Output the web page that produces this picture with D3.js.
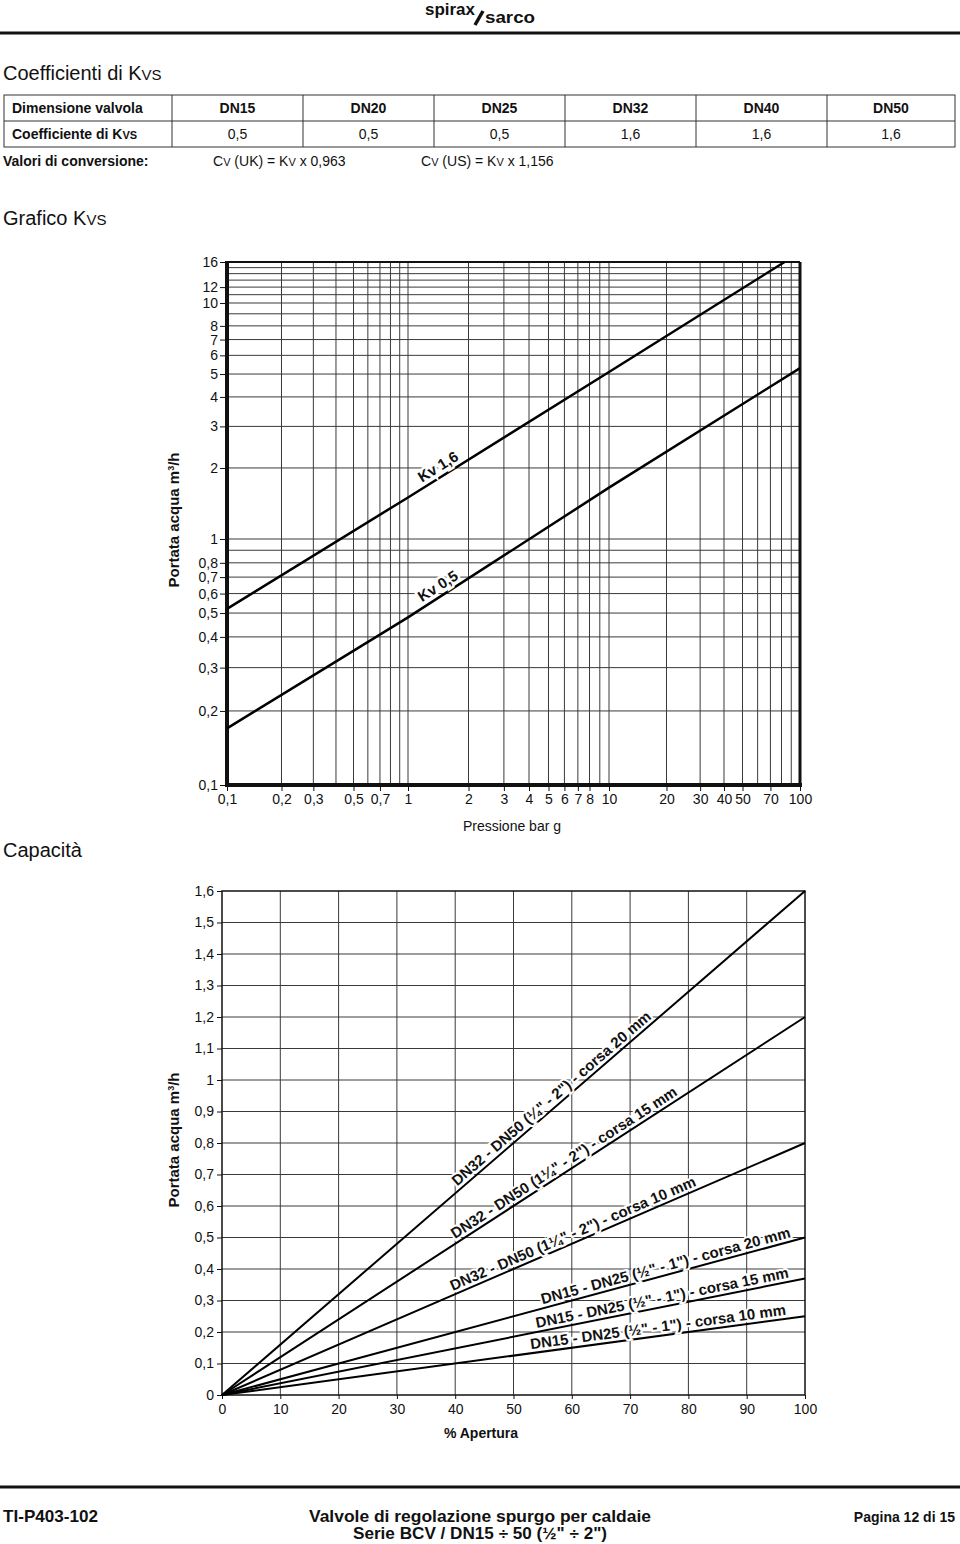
<!DOCTYPE html>
<html lang="it">
<head>
<meta charset="UTF-8">
<title>Coefficienti di Kvs / Grafico Kvs / Capacità</title>
<script src="https://d3js.org/d3.v7.min.js"></script>
<style>
  body { margin: 0; background: #fff; }
  svg { display: block; font-family: "Liberation Sans", Arial, sans-serif; fill: #111; }
  .grid line { stroke: #3a3a3a; stroke-width: 1; }
  .axis text { font-size: 14px; fill: #111; font-family: "Liberation Sans", Arial, sans-serif; }
  .axis line { stroke: #111; }
  .narrow { font-family: "Liberation Sans Narrow", "Arial Narrow", "Liberation Sans", sans-serif; font-weight: bold; }
</style>
</head>
<body>
<div id="page"></div>
<script>
// ---- table ----
const sizes = ["DN15", "DN20", "DN25", "DN32", "DN40", "DN50"];
const kvsValues = ["0,5", "0,5", "0,5", "1,6", "1,6", "1,6"];

// ---- Grafico Kvs (log-log) ----
const pressTicks = [0.1, 0.2, 0.3, 0.5, 0.7, 1, 2, 3, 4, 5, 6, 7, 8, 10, 20, 30, 40, 50, 70, 100];
const flowTicks = [0.1, 0.2, 0.3, 0.4, 0.5, 0.6, 0.7, 0.8, 1, 2, 3, 4, 5, 6, 7, 8, 10, 12, 16];
const kvNames = ["Kv 1,6", "Kv 0,5"];
const kv16Press = [0.1, 1, 10, 83];
const kv16Flow = [0.52, 1.5, 5.1, 16];
const kv05Press = [0.1, 1, 10, 100];
const kv05Flow = [0.17, 0.48, 1.65, 5.3];

// ---- Capacità (linear) ----
const aperturaTicks = [0, 10, 20, 30, 40, 50, 60, 70, 80, 90, 100];
const portataTicks = [0, 0.1, 0.2, 0.3, 0.4, 0.5, 0.6, 0.7, 0.8, 0.9, 1, 1.1, 1.2, 1.3, 1.4, 1.5, 1.6];
const apertura = [0, 100];
const dn32c20 = [0, 1.6];
const dn32c15 = [0, 1.2];
const dn32c10 = [0, 0.8];
const dn15c20 = [0, 0.5];
const dn15c15 = [0, 0.37];
const dn15c10 = [0, 0.25];
const capNames = [
  "DN32 - DN50 (¼\" - 2\") - corsa 20 mm",
  "DN32 - DN50 (1¼\" - 2\") - corsa 15 mm",
  "DN32 - DN50 (1¼\" - 2\") - corsa 10 mm",
  "DN15 - DN25 (½\" - 1\") - corsa 20 mm",
  "DN15 - DN25 (½\" - 1\") - corsa 15 mm",
  "DN15 - DN25 (½\" - 1\") - corsa 10 mm"
];

const comma = d => String(d).replace(".", ",");

const svg = d3.select("#page").append("svg")
  .attr("width", 960).attr("height", 1544);

// header logo
svg.append("text").attr("class", "narrow").attr("x", 425).attr("y", 15)
  .attr("textLength", 50).attr("lengthAdjust", "spacingAndGlyphs")
  .style("font-size", "16px").text("spirax");
svg.append("line").attr("x1", 475).attr("y1", 25).attr("x2", 483).attr("y2", 11)
  .attr("stroke", "#111").attr("stroke-width", 3.5);
svg.append("text").attr("class", "narrow").attr("x", 485).attr("y", 23)
  .attr("textLength", 50).attr("lengthAdjust", "spacingAndGlyphs")
  .style("font-size", "16px").text("sarco");
svg.append("line").attr("x1", 0).attr("x2", 960).attr("y1", 33).attr("y2", 33)
  .attr("stroke", "#111").attr("stroke-width", 3);

// title + table
function kvs(sel, size, sub) {
  sel.append("tspan").text("K");
  sel.append("tspan").style("font-size", sub + "px").text("VS");
}
const t1 = svg.append("text").attr("x", 3).attr("y", 80).style("font-size", "20px").text("Coefficienti di ");
kvs(t1, 20, 15);

const colX = [4, 172, 303, 434, 565, 696, 827, 955];
const rowY = [95, 121, 147];
const table = svg.append("g").attr("stroke", "#333").attr("stroke-width", 1);
table.append("rect").attr("x", colX[0]).attr("y", rowY[0])
  .attr("width", colX[7] - colX[0]).attr("height", rowY[2] - rowY[0]).attr("fill", "none");
table.append("line").attr("x1", colX[0]).attr("x2", colX[7]).attr("y1", rowY[1]).attr("y2", rowY[1]);
colX.slice(1, 7).forEach(x => {
  table.append("line").attr("x1", x).attr("x2", x).attr("y1", rowY[0]).attr("y2", rowY[2]);
});
svg.append("text").attr("x", 12).attr("y", 113).style("font-size", "14px")
  .style("font-weight", "bold").text("Dimensione valvola");
const t2 = svg.append("text").attr("x", 12).attr("y", 139).style("font-size", "14px")
  .style("font-weight", "bold").text("Coefficiente di ");
kvs(t2, 14, 11);
sizes.forEach((s, i) => {
  const cx = (colX[i + 1] + colX[i + 2]) / 2;
  svg.append("text").attr("x", cx).attr("y", 113).attr("text-anchor", "middle")
    .style("font-size", "14px").style("font-weight", "bold").text(s);
  svg.append("text").attr("x", cx).attr("y", 139).attr("text-anchor", "middle")
    .style("font-size", "14px").text(kvsValues[i]);
});
svg.append("text").attr("x", 3).attr("y", 166).style("font-size", "14px")
  .style("font-weight", "bold").text("Valori di conversione:");
function conv(x, a, b) {
  const t = svg.append("text").attr("x", x).attr("y", 166).style("font-size", "14px");
  t.append("tspan").text("C");
  t.append("tspan").style("font-size", "11px").text("V");
  t.append("tspan").text(" (" + a + ") = K");
  t.append("tspan").style("font-size", "11px").text("V");
  t.append("tspan").text(" x " + b);
}
conv(213, "UK", "0,963");
conv(421, "US", "1,156");

const t3 = svg.append("text").attr("x", 3).attr("y", 225).style("font-size", "20px").text("Grafico ");
kvs(t3, 20, 15);
svg.append("text").attr("x", 3).attr("y", 857).style("font-size", "20px").text("Capacità");

// ---------- top chart ----------
const xT = d3.scaleLog().domain([0.1, 1, 10, 100]).range([227, 408, 609, 800]);
const yT = d3.scaleLog().domain([0.1, 1, 10, 16]).range([785, 539, 303, 262]);
const gridPress = [0.1, 1, 10].flatMap(d => d3.range(1, 10).map(k => +(k * d).toPrecision(2))).filter(v => v > 0.1);
const gridFlow = [0.1, 1].flatMap(d => d3.range(1, 10).map(k => +(k * d).toPrecision(2)))
  .concat([10, 11, 12, 13, 14, 15]).filter(v => v > 0.1);

const topG = svg.append("g");
const gT = topG.append("g").attr("class", "grid");
gT.selectAll(".v").data(gridPress).join("line")
  .attr("x1", d => xT(d)).attr("x2", d => xT(d)).attr("y1", yT(16)).attr("y2", yT(0.1));
gT.selectAll(".h").data(gridFlow).join("line")
  .attr("x1", xT(0.1)).attr("x2", xT(100)).attr("y1", d => yT(d)).attr("y2", d => yT(d));

topG.append("g").attr("class", "axis").attr("transform", `translate(${xT(0.1) - 2},0)`)
  .call(d3.axisLeft(yT).tickValues(flowTicks).tickFormat(comma).tickSize(5).tickPadding(2))
  .call(g => g.select(".domain").remove());
topG.append("g").attr("class", "axis").attr("transform", `translate(0,${yT(0.1) + 2})`)
  .call(d3.axisBottom(xT).tickValues(pressTicks).tickFormat(comma).tickSize(4).tickPadding(3))
  .call(g => g.select(".domain").remove());

// frame
topG.append("line").attr("x1", xT(0.1)).attr("x2", xT(0.1)).attr("y1", yT(16) - 1).attr("y2", yT(0.1) + 2)
  .attr("stroke", "#111").attr("stroke-width", 4);
topG.append("line").attr("x1", xT(0.1) - 2).attr("x2", xT(100) + 2).attr("y1", yT(0.1)).attr("y2", yT(0.1))
  .attr("stroke", "#111").attr("stroke-width", 4);
topG.append("line").attr("x1", xT(100)).attr("x2", xT(100)).attr("y1", yT(16)).attr("y2", yT(0.1))
  .attr("stroke", "#111").attr("stroke-width", 3);
topG.append("line").attr("x1", xT(0.1)).attr("x2", xT(100)).attr("y1", yT(16)).attr("y2", yT(16))
  .attr("stroke", "#111").attr("stroke-width", 2);

const kvSeries = [
  { name: kvNames[0], pts: kv16Press.map((p, i) => [p, kv16Flow[i]]) },
  { name: kvNames[1], pts: kv05Press.map((p, i) => [p, kv05Flow[i]]) }
];
const lineT = d3.line().x(d => xT(d[0])).y(d => yT(d[1]));
topG.selectAll(".kv").data(kvSeries).join("path")
  .attr("d", d => lineT(d.pts)).attr("fill", "none").attr("stroke", "#000").attr("stroke-width", 2.5);

function labelOnPoly(pts, xp) {
  const px = pts.map(d => [xT(d[0]), yT(d[1])]);
  let i = 0;
  while (i < px.length - 2 && px[i + 1][0] < xp) i++;
  const a = px[i], b = px[i + 1];
  const t = (xp - a[0]) / (b[0] - a[0]);
  const ang = Math.atan2(b[1] - a[1], b[0] - a[0]) * 180 / Math.PI;
  return { x: xp, y: a[1] + t * (b[1] - a[1]), ang };
}
kvSeries.forEach(s => {
  const p = labelOnPoly(s.pts, xT(1.5));
  topG.append("text").attr("transform", `translate(${p.x},${p.y}) rotate(${p.ang})`)
    .attr("y", -5).attr("text-anchor", "middle")
    .style("font-size", "15px").style("font-weight", "bold")
    .attr("stroke", "#fff").attr("stroke-width", 5).attr("paint-order", "stroke")
    .text(s.name);
});

const yLabel = "Portata acqua m<tspan dy='-5' style='font-size:9px'>3</tspan><tspan dy='5'>/h</tspan>";
topG.append("text").attr("transform", `translate(179,520) rotate(-90)`).attr("text-anchor", "middle")
  .style("font-size", "15px").style("font-weight", "bold").html(yLabel);
topG.append("text").attr("x", 512).attr("y", 831).attr("text-anchor", "middle")
  .style("font-size", "14px").text("Pressione bar g");

// ---------- bottom chart ----------
const xB = d3.scaleLinear().domain([0, 100]).range([222, 805]);
const yB = d3.scaleLinear().domain([0, 1.6]).range([1395, 891]);
const botG = svg.append("g");
const gB = botG.append("g").attr("class", "grid");
gB.selectAll(".v").data(aperturaTicks.slice(1, -1)).join("line")
  .attr("x1", d => xB(d)).attr("x2", d => xB(d)).attr("y1", yB(1.6)).attr("y2", yB(0));
gB.selectAll(".h").data(portataTicks.slice(1, -1)).join("line")
  .attr("x1", xB(0)).attr("x2", xB(100)).attr("y1", d => yB(d)).attr("y2", d => yB(d));
botG.append("rect").attr("x", xB(0)).attr("y", yB(1.6))
  .attr("width", xB(100) - xB(0)).attr("height", yB(0) - yB(1.6))
  .attr("fill", "none").attr("stroke", "#111").attr("stroke-width", 1.5);

botG.append("g").attr("class", "axis").attr("transform", `translate(${xB(0)},0)`)
  .call(d3.axisLeft(yB).tickValues(portataTicks).tickFormat(d => comma(+d.toFixed(1))).tickSize(5).tickPadding(3))
  .call(g => g.select(".domain").remove());
botG.append("g").attr("class", "axis").attr("transform", `translate(0,${yB(0)})`)
  .call(d3.axisBottom(xB).tickValues(aperturaTicks).tickSize(4).tickPadding(5))
  .call(g => g.select(".domain").remove());

const capSeries = [dn32c20, dn32c15, dn32c10, dn15c20, dn15c15, dn15c10]
  .map((v, i) => ({ name: capNames[i], pts: apertura.map((a, j) => [a, v[j]]) }));
const labelPct = [57.5, 59.5, 60.8, 76.5, 75.8, 75];
const lineB = d3.line().x(d => xB(d[0])).y(d => yB(d[1]));
botG.selectAll(".cap").data(capSeries).join("path")
  .attr("d", d => lineB(d.pts)).attr("fill", "none").attr("stroke", "#000").attr("stroke-width", 2);
capSeries.forEach((s, i) => {
  const a = s.pts[0], b = s.pts[1];
  const p = labelPct[i];
  const v = a[1] + (b[1] - a[1]) * (p - a[0]) / (b[0] - a[0]);
  const ang = Math.atan2(yB(b[1]) - yB(a[1]), xB(b[0]) - xB(a[0])) * 180 / Math.PI;
  botG.append("text").attr("transform", `translate(${xB(p)},${yB(v)}) rotate(${ang})`)
    .attr("y", -4).attr("text-anchor", "middle")
    .style("font-size", "15px").style("font-weight", "bold")
    .attr("stroke", "#fff").attr("stroke-width", 4).attr("paint-order", "stroke")
    .text(s.name);
});

botG.append("text").attr("transform", `translate(179,1140) rotate(-90)`).attr("text-anchor", "middle")
  .style("font-size", "15px").style("font-weight", "bold").html(yLabel);
botG.append("text").attr("x", 481).attr("y", 1438).attr("text-anchor", "middle")
  .style("font-size", "14px").style("font-weight", "bold").text("% Apertura");

// footer
svg.append("line").attr("x1", 0).attr("x2", 960).attr("y1", 1487).attr("y2", 1487)
  .attr("stroke", "#111").attr("stroke-width", 3);
function foot(x, y, anchor, len, txt) {
  svg.append("text").attr("class", "narrow").attr("x", x).attr("y", y).attr("text-anchor", anchor)
    .attr("textLength", len).attr("lengthAdjust", "spacingAndGlyphs")
    .style("font-size", "17px").text(txt);
}
foot(3, 1522, "start", 95, "TI-P403-102");
foot(480, 1522, "middle", 342, "Valvole di regolazione spurgo per caldaie");
foot(480, 1539, "middle", 254, "Serie BCV / DN15 ÷ 50 (½\" ÷ 2\")");
svg.append("text").attr("class", "narrow").attr("x", 955).attr("y", 1522).attr("text-anchor", "end")
  .style("font-size", "14px").text("Pagina 12 di 15");
</script>
</body>
</html>
